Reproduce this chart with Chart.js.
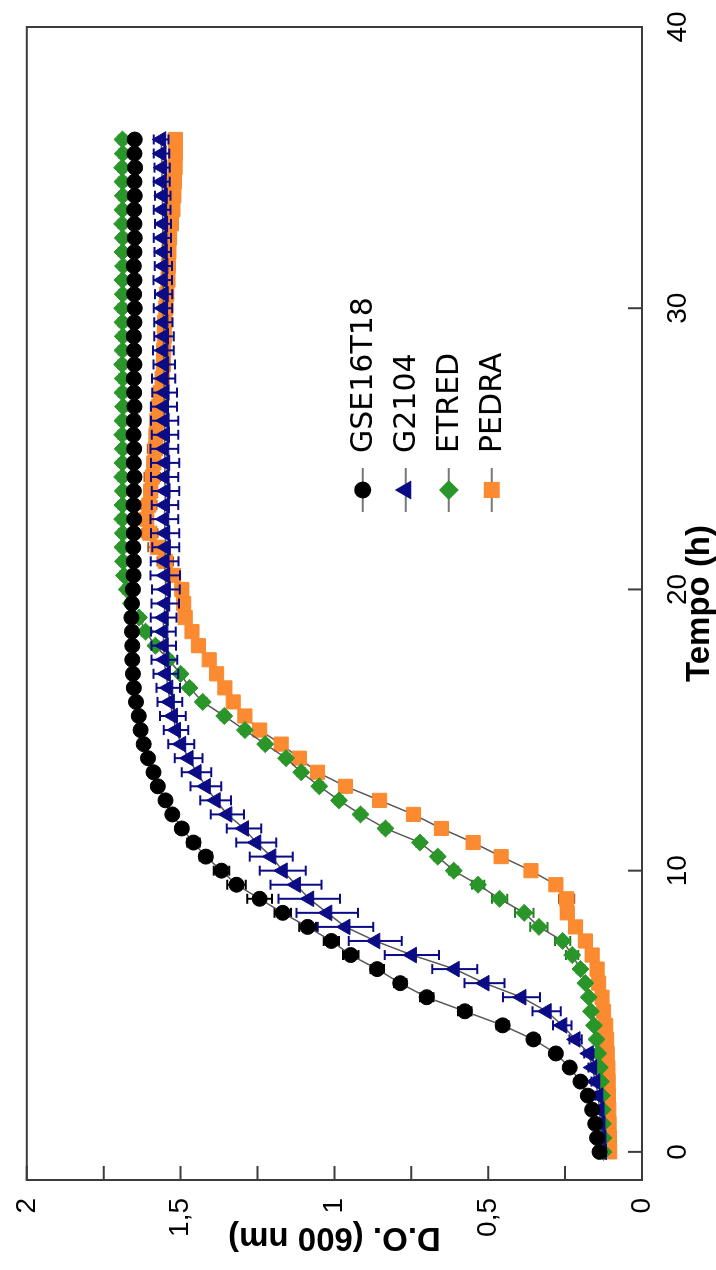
<!DOCTYPE html>
<html>
<head>
<meta charset="utf-8">
<script src="https://cdn.jsdelivr.net/npm/chart.js@4.4.1/dist/chart.umd.min.js"></script>
<style>
html,body{margin:0;padding:0;background:#fff;overflow:hidden;width:716px;height:1270px;}
#wrap{position:absolute;left:0;top:0;width:1270px;height:716px;transform-origin:0 0;transform:translate(0,1270px) rotate(-90deg);}
</style>
</head>
<body>
<div id="wrap"><canvas id="growthChart" width="1270" height="716"></canvas></div>
<script>

// ==========================
// Data
// ==========================

const hours = [0,0.5,1,1.5,2,2.5,3,3.5,4,4.5,5,5.5,6,6.5,7,7.5,8,8.5,9,9.5,10,10.5,11,11.5,12,12.5,13,13.5,14,14.5,15,15.5,16,16.5,17,17.5,18,18.5,19,19.5,20,20.5,21,21.5,22,22.5,23,23.5,24,24.5,25,25.5,26,26.5,27,27.5,28,28.5,29,29.5,30,30.5,31,31.5,32,32.5,33,33.5,34,34.5,35,35.5,36];

const seriesNames = ["GSE16T18","G2104","ETRED","PEDRA"];

const gse16t18 = [0.138,0.146,0.152,0.162,0.176,0.200,0.235,0.280,0.353,0.453,
    0.576,0.700,0.786,0.861,0.947,1.010,1.087,1.168,1.243,1.318,
    1.367,1.418,1.458,1.496,1.527,1.549,1.574,1.588,1.606,1.620,
    1.630,1.636,1.645,1.652,1.655,1.657,1.657,1.658,1.660,1.658,
    1.655,1.653,1.652,1.654,1.652,1.651,1.653,1.652,1.650,1.652,
    1.651,1.653,1.652,1.650,1.651,1.652,1.650,1.651,1.652,1.650,
    1.649,1.651,1.650,1.652,1.650,1.649,1.650,1.651,1.649,1.650,
    1.648,1.650,1.649];
const gse16t18Err = [0.008,0.008,0.008,0.008,0.01,0.01,0.012,0.015,0.018,0.02,
    0.022,0.022,0.02,0.022,0.025,0.025,0.027,0.027,0.04,0.03,
    0.025,0.02,0.02,0.018,0.015,0.015,0.015,0.012,0.012,0.012,
    0.01,0.01,0.01,0.01,0.01,0.01,0.01,0.01,0.01,0.01,
    0.01,0.01,0.01,0.01,0.01,0.01,0.01,0.01,0.01,0.01,
    0.01,0.01,0.01,0.01,0.01,0.01,0.01,0.01,0.01,0.01,
    0.01,0.01,0.01,0.01,0.01,0.01,0.01,0.01,0.01,0.01,
    0.01,0.01,0.01];

const g2104 = [0.130,0.132,0.135,0.138,0.142,0.152,0.162,0.173,0.216,0.259,
    0.310,0.392,0.512,0.609,0.748,0.867,0.964,1.023,1.082,1.125,
    1.168,1.205,1.254,1.294,1.348,1.386,1.418,1.448,1.474,1.498,
    1.515,1.525,1.535,1.540,1.548,1.553,1.555,1.556,1.555,1.550,
    1.548,1.550,1.552,1.548,1.550,1.553,1.551,1.549,1.552,1.550,
    1.553,1.551,1.552,1.554,1.552,1.555,1.553,1.556,1.554,1.556,
    1.557,1.555,1.558,1.556,1.558,1.559,1.557,1.560,1.558,1.561,
    1.560,1.562,1.563];
const g2104Err = [0.01,0.01,0.01,0.01,0.01,0.012,0.012,0.015,0.02,0.03,
    0.046,0.06,0.065,0.073,0.088,0.086,0.09,0.1,0.1,0.083,
    0.075,0.07,0.065,0.056,0.054,0.05,0.05,0.048,0.045,0.042,
    0.04,0.042,0.04,0.038,0.04,0.042,0.04,0.04,0.042,0.045,
    0.045,0.048,0.045,0.044,0.046,0.045,0.043,0.045,0.044,0.046,
    0.045,0.043,0.044,0.042,0.04,0.038,0.035,0.034,0.032,0.03,
    0.03,0.028,0.03,0.028,0.027,0.028,0.026,0.027,0.025,0.026,
    0.025,0.025,0.024];

const etred = [0.125,0.125,0.127,0.128,0.130,0.133,0.137,0.142,0.148,0.156,
    0.166,0.173,0.184,0.200,0.227,0.258,0.335,0.383,0.463,0.533,
    0.612,0.664,0.722,0.834,0.915,0.985,1.049,1.108,1.157,1.225,
    1.291,1.358,1.428,1.471,1.500,1.539,1.582,1.614,1.635,1.662,
    1.675,1.684,1.687,1.689,1.688,1.690,1.689,1.688,1.690,1.689,
    1.688,1.690,1.689,1.687,1.689,1.688,1.690,1.689,1.688,1.689,
    1.690,1.688,1.689,1.687,1.689,1.688,1.690,1.689,1.688,1.689,
    1.690,1.688,1.689];
const etredErr = [0.008,0.008,0.008,0.008,0.008,0.008,0.008,0.008,0.008,0.008,
    0.008,0.008,0.008,0.012,0.02,0.025,0.028,0.03,0.025,0.02,
    0.015,0.012,0.012,0.012,0.012,0.012,0.012,0.012,0.012,0.012,
    0.012,0.012,0.012,0.012,0.012,0.012,0.012,0.012,0.012,0.012,
    0.012,0.012,0.012,0.012,0.012,0.012,0.012,0.012,0.012,0.012,
    0.012,0.012,0.012,0.012,0.012,0.012,0.012,0.012,0.012,0.012,
    0.012,0.012,0.012,0.012,0.012,0.012,0.012,0.012,0.012,0.012,
    0.012,0.012,0.012];

const pedra = [0.105,0.106,0.107,0.108,0.109,0.110,0.111,0.113,0.115,0.118,
    0.125,0.130,0.141,0.146,0.162,0.184,0.216,0.243,0.245,0.280,
    0.361,0.458,0.549,0.652,0.743,0.853,0.964,1.055,1.114,1.173,
    1.243,1.291,1.329,1.356,1.383,1.407,1.442,1.463,1.485,1.490,
    1.496,1.523,1.550,1.575,1.600,1.610,1.603,1.597,1.592,1.587,
    1.582,1.580,1.577,1.572,1.566,1.560,1.556,1.555,1.553,1.552,
    1.548,1.545,1.541,1.540,1.538,1.536,1.530,1.525,1.522,1.520,
    1.518,1.517,1.517];
const pedraErr = [0.008,0.008,0.008,0.008,0.008,0.008,0.008,0.008,0.008,0.008,
    0.008,0.008,0.008,0.008,0.008,0.008,0.008,0.02,0.025,0.015,
    0.012,0.012,0.012,0.012,0.012,0.012,0.012,0.012,0.012,0.012,
    0.012,0.012,0.012,0.012,0.012,0.012,0.012,0.012,0.012,0.012,
    0.012,0.02,0.025,0.03,0.025,0.02,0.025,0.02,0.025,0.02,
    0.025,0.02,0.02,0.025,0.02,0.02,0.015,0.02,0.015,0.02,
    0.015,0.02,0.015,0.02,0.015,0.015,0.02,0.015,0.015,0.02,
    0.015,0.015,0.015];

const timeTicks = [0,10,20,30,40];
const odTicks = [0,0.25,0.5,0.75,1,1.25,1.5,1.75,2];
const odTickLabels = {0:"0",0.5:"0,5",1:"1",1.5:"1,5",2:"2"};

// ==========================
// Styles
// ==========================

const seriesValues = [gse16t18,g2104,etred,pedra];
const seriesErrors = [gse16t18Err,g2104Err,etredErr,pedraErr];
const markerColors = ["#000000","#0b0b86","#2a962a","#fb8a30"];
const errorColors = ["#000000","#0b0b86","#237f23","#b4541c"];
const markerShapes = ["circle","triangle","rectRot","rect"];
const markerSizes = [7.5,9,8.5,10];

// ==========================
// Plugins
// ==========================

const errorBars = {
    id:"errorBars",
    beforeDatasetDraw(chart,args){
        const i=args.index;
        const errs=seriesErrors[i];
        const yScale=chart.scales.y;
        const ctx=chart.ctx;
        ctx.save();
        ctx.strokeStyle=errorColors[i];
        ctx.lineWidth=2;
        args.meta.data.forEach((pt,j)=>{
            const v=seriesValues[i][j];
            const top=yScale.getPixelForValue(v+errs[j]);
            const bot=yScale.getPixelForValue(v-errs[j]);
            ctx.beginPath();
            ctx.moveTo(pt.x,top);ctx.lineTo(pt.x,bot);
            ctx.moveTo(pt.x-5,top);ctx.lineTo(pt.x+5,top);
            ctx.moveTo(pt.x-5,bot);ctx.lineTo(pt.x+5,bot);
            ctx.stroke();
        });
        ctx.restore();
    }
};

const frameTicks = {
    id:"frameTicks",
    afterDatasetsDraw(chart){
        const {ctx,chartArea:a,scales:{x,y}}=chart;
        ctx.save();
        ctx.strokeStyle="#3c3c3c";
        ctx.lineWidth=2;
        ctx.strokeRect(a.left,a.top,a.right-a.left,a.bottom-a.top);
        ctx.beginPath();
        timeTicks.forEach(v=>{
            const px=x.getPixelForValue(v);
            ctx.moveTo(px,a.bottom);ctx.lineTo(px,a.bottom-14);
        });
        odTicks.forEach(v=>{
            const py=y.getPixelForValue(v);
            ctx.moveTo(a.left,py);ctx.lineTo(a.left+14,py);
        });
        ctx.stroke();
        ctx.restore();
    }
};

const sideLegend = {
    id:"sideLegend",
    afterDraw(chart){
        const {ctx,chartArea:a}=chart;
        const mx=a.left+690;
        ctx.save();
        seriesNames.forEach((name,i)=>{
            const ry=a.top+336+i*43;
            ctx.strokeStyle="#777";
            ctx.lineWidth=2;
            ctx.beginPath();
            ctx.moveTo(mx-22,ry);ctx.lineTo(mx+22,ry);
            ctx.stroke();
            ctx.fillStyle=markerColors[i];
            ctx.strokeStyle=markerColors[i];
            if(Chart.helpers && Chart.helpers.drawPoint){
                Chart.helpers.drawPoint(ctx,{pointStyle:markerShapes[i],radius:markerSizes[i],rotation:0,borderWidth:1},mx,ry);
            }else{
                ctx.beginPath();ctx.arc(mx,ry,markerSizes[i],0,Math.PI*2);ctx.fill();
            }
            ctx.fillStyle="#000";
            ctx.font="30px 'DejaVu Sans'";
            ctx.textBaseline="middle";
            ctx.textAlign="left";
            ctx.fillText(name,mx+37,ry+1);
        });
        ctx.restore();
    }
};

// ==========================
// Chart
// ==========================

document.addEventListener("DOMContentLoaded",()=>{

    const canvas=document.getElementById("growthChart");

    new Chart(canvas,{

        type:"line",

        data:{
            datasets:seriesNames.map((name,i)=>({
                label:name,
                data:hours.map((h,j)=>({x:h,y:seriesValues[i][j]})),
                borderColor:"#5a5a5a",
                borderWidth:1.5,
                tension:0,
                pointStyle:markerShapes[i],
                pointRadius:markerSizes[i],
                pointBackgroundColor:markerColors[i],
                pointBorderColor:markerColors[i],
                pointBorderWidth:1
            }))
        },

        options:{
            responsive:false,
            animation:false,
            devicePixelRatio:1,
            layout:{padding:{top:22,right:27,left:0,bottom:0}},
            plugins:{
                legend:{display:false},
                tooltip:{enabled:false}
            },
            scales:{
                x:{
                    type:"linear",
                    min:-1,
                    max:40,
                    afterBuildTicks:s=>{s.ticks=timeTicks.map(v=>({value:v}));},
                    afterFit:s=>{s.height=74;},
                    grid:{display:false},
                    border:{display:false},
                    ticks:{
                        font:{family:"Liberation Sans",size:28},
                        color:"#000",
                        padding:11,
                        maxRotation:0,
                        autoSkip:false
                    },
                    title:{
                        display:true,
                        text:"Tempo (h)",
                        color:"#000",
                        font:{family:"Liberation Sans",size:33,weight:"bold"},
                        padding:{top:0,bottom:-4}
                    }
                },
                y:{
                    type:"linear",
                    min:0,
                    max:2,
                    afterBuildTicks:s=>{s.ticks=odTicks.map(v=>({value:v}));},
                    afterFit:s=>{s.width=90;},
                    grid:{display:false},
                    border:{display:false},
                    ticks:{
                        font:{family:"Liberation Sans",size:28},
                        color:"#000",
                        padding:10,
                        autoSkip:false,
                        callback:v=>odTickLabels[v]!==undefined?odTickLabels[v]:""
                    },
                    title:{
                        display:true,
                        text:"D.O. (600 nm)",
                        color:"#000",
                        font:{family:"Liberation Sans",size:33,weight:"bold"},
                        padding:{top:13,bottom:0}
                    }
                }
            }
        },

        plugins:[errorBars,frameTicks,sideLegend]

    });

});
</script>
</body>
</html>
